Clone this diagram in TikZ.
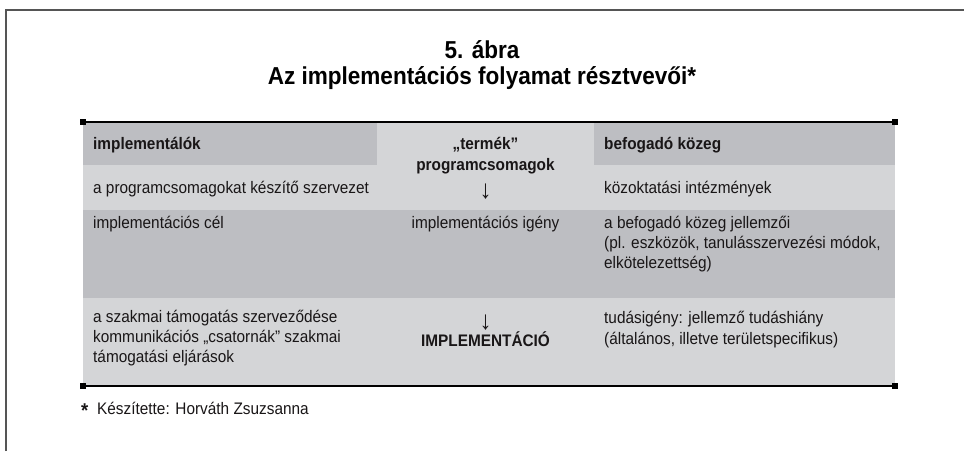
\documentclass[tikz,border=0pt]{standalone}
\usepackage{fontspec}
\setmainfont{Liberation Sans}[FakeStretch=0.92]
\definecolor{darkg}{RGB}{189,190,194}
\definecolor{lightg}{RGB}{212,213,215}
\definecolor{txt}{RGB}{25,22,23}
\definecolor{framec}{RGB}{85,85,85}
\begin{document}
\begin{tikzpicture}[x=1pt,y=-1pt,
  cell/.style={anchor=base west, inner sep=0pt, text=txt, font=\fontsize{16.7}{20}\selectfont},
  hcell/.style={cell, font=\fontsize{16.7}{20}\selectfont\bfseries},
  mid/.style={anchor=base, inner sep=0pt, text=txt, font=\fontsize{16.7}{20}\selectfont},
  hmid/.style={mid, font=\fontsize{16.7}{20}\selectfont\bfseries},
  arrowtxt/.style={mid, font=\fontsize{26}{26}\selectfont},
  ttl/.style={anchor=base, inner sep=0pt, text=black, font=\fontsize{24.5}{28}\selectfont\bfseries},
  rule/.style={draw=black, line width=1.3pt},
  sq/.style={fill=black, minimum size=6pt, inner sep=0pt, draw=none}]
\useasboundingbox (0,0) rectangle (964,451);
\fill[white] (0,0) rectangle (964,451);
% outer frame
\coordinate (fb) at (6,451);
\coordinate (fc) at (6,10);
\coordinate (fr) at (964,10);
\draw[framec, line width=2pt] (fb) -- (fc) -- (fr);
% title
\node[ttl] (t1) at (482,58) {5. ábra};
\node[ttl] (t2) at (482,84) {Az implementációs folyamat résztvevői*};
% table backgrounds
\fill[darkg] (83,122) rectangle (377,165);
\fill[lightg] (377,122) rectangle (594,165);
\fill[darkg] (594,122) rectangle (895,165);
\fill[lightg] (83,165) rectangle (895,210);
\fill[darkg] (83,210) rectangle (895,298);
\fill[lightg] (83,298) rectangle (895,386);
% rules with end squares
\node[sq] (tl) at (83,122) {};
\node[sq] (tr) at (895,122) {};
\node[sq] (bl) at (83,386) {};
\node[sq] (br) at (895,386) {};
\draw[rule] (tl) -- (tr);
\draw[rule] (bl) -- (br);
% header row
\node[hcell] (h1) at (93,149) {implementálók};
\node[hmid] (h2a) at (485.5,149) {„termék”};
\node[hmid] (h2b) at (485.5,170) {programcsomagok};
\node[hcell] (h3) at (604,149) {befogadó közeg};
% row 2
\node[cell] (r2a) at (93,193) {a programcsomagokat készítő szervezet};
\node[arrowtxt] (r2b) at (485.5,198) {↓};
\node[cell] (r2c) at (604,193) {közoktatási intézmények};
% row 3
\node[cell] (r3a) at (93,228) {implementációs cél};
\node[mid] (r3b) at (485.5,228) {implementációs igény};
\node[cell] (r3c1) at (604,228) {a befogadó közeg jellemzői};
\node[cell] (r3c2) at (604,248) {(pl. eszközök, tanulásszervezési módok,};
\node[cell] (r3c3) at (604,268) {elkötelezettség)};
% row 4
\node[cell] (r4a1) at (93,322) {a szakmai támogatás szerveződése};
\node[cell] (r4a2) at (93,342) {kommunikációs „csatornák” szakmai};
\node[cell] (r4a3) at (93,362) {támogatási eljárások};
\node[arrowtxt] (r4b1) at (485.5,329) {↓};
\node[hmid] (r4b2) at (485.5,346) {IMPLEMENTÁCIÓ};
\node[cell] (r4c1) at (604,323) {tudásigény: jellemző tudáshiány};
\node[cell] (r4c2) at (604,344) {(általános, illetve területspecifikus)};
% footnote
\node[anchor=base west, inner sep=0pt, text=txt, font=\fontsize{20}{20}\selectfont\bfseries] (st) at (81,417) {*};
\node[cell] (fn) at (97,414) {Készítette: Horváth Zsuzsanna};
\end{tikzpicture}
\end{document}
